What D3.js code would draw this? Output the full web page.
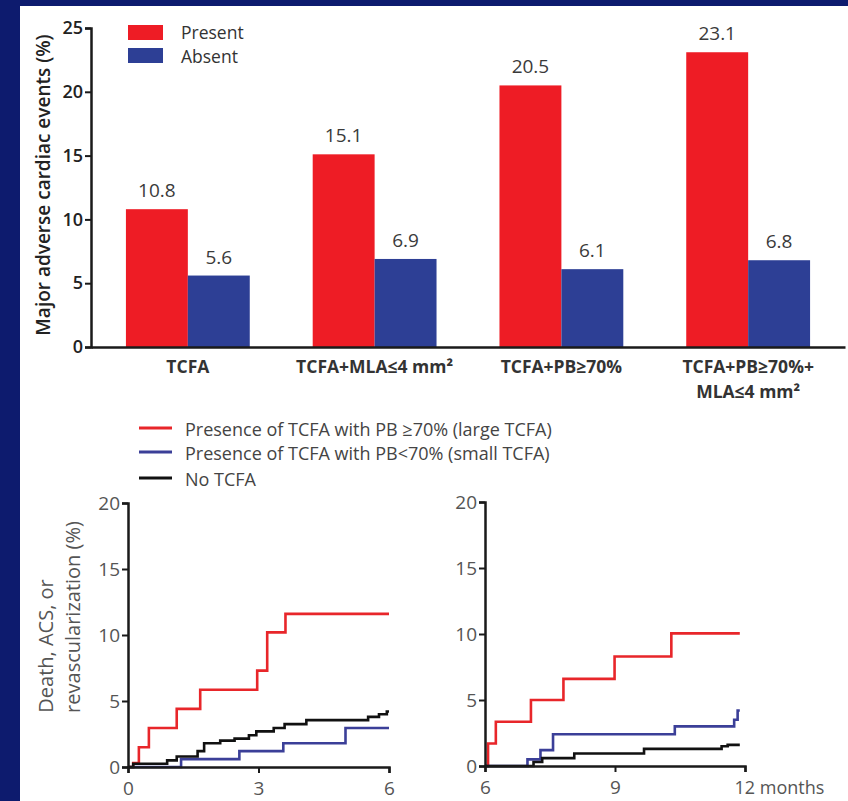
<!DOCTYPE html>
<meta charset="utf-8">
<head>
    <title>TCFA outcomes</title>
    <script type="text/javascript" src="https://d3js.org/d3.v7.min.js"></script>
    <style>
        body { margin: 0; background: #0d1b6e; }
        text { font-family: "Open Sans", sans-serif; }
    </style>
</head>
<body>
    <div id="chart"></div>
    <script>
        // bar chart data
        var categories = ["TCFA", "TCFA+MLA≤4 mm²", "TCFA+PB≥70%", "TCFA+PB≥70%+\nMLA≤4 mm²"];
        var groups = ["Present", "Absent"];
        var present = [10.8, 15.1, 20.5, 23.1];
        var absent = [5.6, 6.9, 6.1, 6.8];
        var barTicks = [0, 5, 10, 15, 20, 25];

        // step curves, 0-6 months
        var redEarlyT = [0, 0.12, 0.25, 0.48, 1.12, 1.66, 2.97, 3.2, 3.62, 6];
        var redEarlyV = [0, 0.3, 1.5, 2.95, 4.4, 5.85, 7.3, 10.2, 11.6, 11.6];
        var blueEarlyT = [0, 1.22, 2.56, 3.57, 5.0, 6];
        var blueEarlyV = [0, 0.6, 1.2, 1.8, 2.95, 2.95];
        var blackEarlyT = [0, 0.12, 0.9, 1.12, 1.6, 1.75, 2.12, 2.45, 2.78, 2.95, 3.35, 3.6, 4.1, 5.52, 5.77, 5.95, 6];
        var blackEarlyV = [0, 0.25, 0.5, 0.8, 1.2, 1.8, 2.0, 2.15, 2.4, 2.7, 2.95, 3.25, 3.55, 3.8, 4.0, 4.2, 4.2];

        // step curves, 6-12 months
        var redLateT = [6, 6.07, 6.25, 7.06, 7.81, 8.99, 10.3, 11.88];
        var redLateV = [0, 1.7, 3.35, 5.0, 6.6, 8.3, 10.05, 10.05];
        var blueLateT = [6, 6.98, 7.28, 7.57, 10.38, 11.75, 11.83, 11.88];
        var blueLateV = [0, 0.5, 1.2, 2.4, 3.0, 3.5, 4.2, 4.2];
        var blackLateT = [6, 7.12, 7.32, 8.06, 9.67, 11.46, 11.6, 11.88];
        var blackLateV = [0, 0.3, 0.6, 0.95, 1.3, 1.5, 1.6, 1.6];

        var curveNames = ["Presence of TCFA with PB ≥70% (large TCFA)", "Presence of TCFA with PB<70% (small TCFA)", "No TCFA"];
        var curveColors = ["#e8262a", "#3b3f98", "#111111"];
        var curveTicks = [0, 5, 10, 15, 20];

        var width = 848, height = 801;
        var svg = d3.select("#chart").append("svg")
                    .attr("width", width)
                    .attr("height", height);

        // navy frame and white panel
        svg.append("rect").attr("width", width).attr("height", height).attr("fill", "#0d1b6e");
        svg.append("rect").attr("x", 20).attr("y", 6).attr("width", 828).attr("height", 795).attr("fill", "#ffffff");

        // ---------- top bar chart ----------
        var barColors = d3.scaleOrdinal().domain(groups).range(["#ee1c25", "#2d3f95"]);
        var x0 = d3.scaleBand().domain(categories).range([91, 845]).paddingInner(0.337).paddingOuter(0.187);
        var x1 = d3.scaleBand().domain(groups).range([0, x0.bandwidth()]);
        var yBar = d3.scaleLinear().domain([0, 25]).range([347, 28]);

        var rows = categories.map(function(c, i) {
            return { cat: c, vals: [{ g: "Present", v: present[i] }, { g: "Absent", v: absent[i] }] };
        });

        var bars = svg.append("g").selectAll("g")
                      .data(rows)
                      .enter().append("g")
                      .attr("transform", function(d) { return "translate(" + x0(d.cat) + ",0)"; });

        bars.selectAll("rect")
            .data(function(d) { return d.vals; })
            .enter().append("rect")
            .attr("x", function(d) { return x1(d.g); })
            .attr("y", function(d) { return yBar(d.v); })
            .attr("width", x1.bandwidth())
            .attr("height", function(d) { return yBar(0) - yBar(d.v); })
            .attr("fill", function(d) { return barColors(d.g); });

        bars.selectAll("text")
            .data(function(d) { return d.vals; })
            .enter().append("text")
            .attr("x", function(d) { return x1(d.g) + x1.bandwidth() / 2; })
            .attr("y", function(d) { return yBar(d.v) - 12; })
            .attr("text-anchor", "middle")
            .attr("font-size", "19px")
            .attr("fill", "#3a3a3a")
            .text(function(d) { return d.v.toFixed(1); });

        var yBarAxis = svg.append("g")
                          .attr("transform", "translate(91,0)")
                          .call(d3.axisLeft(yBar).tickValues(barTicks).tickSize(6).tickPadding(2));
        yBarAxis.select(".domain").attr("stroke", "#1a1a1a").attr("stroke-width", 2.5);
        yBarAxis.selectAll(".tick line").attr("stroke", "#1a1a1a").attr("stroke-width", 2);
        yBarAxis.selectAll(".tick text").attr("font-size", "18px").attr("font-weight", 600).attr("fill", "#222");

        var xBarAxis = svg.append("g")
                          .attr("transform", "translate(0,347)")
                          .call(d3.axisBottom(x0).tickSize(0).tickFormat(""));
        xBarAxis.select(".domain").attr("stroke", "#1a1a1a").attr("stroke-width", 2.5);

        svg.append("g").selectAll("text")
           .data(categories)
           .enter().append("text")
           .attr("x", function(d) { return x0(d) + x0.bandwidth() / 2; })
           .attr("y", 373)
           .attr("text-anchor", "middle")
           .attr("font-size", "17.5px")
           .attr("font-weight", 700)
           .attr("fill", "#333")
           .each(function(d) {
               var lines = d.split("\n");
               var t = d3.select(this);
               lines.forEach(function(l, i) {
                   t.append("tspan").attr("x", t.attr("x")).attr("dy", i == 0 ? 0 : 25).text(l);
               });
           });

        svg.append("text")
           .attr("transform", "translate(50,185) rotate(-90)")
           .attr("text-anchor", "middle")
           .attr("font-size", "19px")
           .attr("font-weight", 600)
           .attr("fill", "#222")
           .text("Major adverse cardiac events (%)");

        // bar legend
        var barLegend = svg.append("g").selectAll("g")
                           .data(groups)
                           .enter().append("g")
                           .attr("transform", function(d, i) { return "translate(128," + (25 + i * 23) + ")"; });
        barLegend.append("rect").attr("width", 35).attr("height", 15).attr("fill", function(d) { return barColors(d); });
        barLegend.append("text").attr("x", 53).attr("y", function(d, i) { return 14 + i; })
                 .attr("font-size", "17.5px").attr("fill", "#333")
                 .text(function(d) { return d; });

        // ---------- bottom curves ----------
        var curveLegend = svg.append("g").selectAll("g")
                             .data(curveNames)
                             .enter().append("g")
                             .attr("transform", function(d, i) { return "translate(0," + [428, 452, 478][i] + ")"; });
        curveLegend.append("line").attr("x1", 139).attr("x2", 172)
                   .attr("stroke", function(d, i) { return curveColors[i]; })
                   .attr("stroke-width", 3);
        curveLegend.append("text").attr("x", 185).attr("y", 8)
                   .attr("font-size", "18px").attr("fill", "#444")
                   .text(function(d) { return d; });

        var line = function(xs, ys) {
            return d3.line().curve(d3.curveStepAfter)
                     .x(function(d) { return xs(d[0]); })
                     .y(function(d) { return ys(d[1]); });
        };

        function drawPanel(xDomain, xRange, yRange, xTicks, series) {
            var xs = d3.scaleLinear().domain(xDomain).range(xRange);
            var ys = d3.scaleLinear().domain([0, 20]).range(yRange);
            var g = svg.append("g");

            series.forEach(function(s, i) {
                var pts = s[0].map(function(t, j) { return [t, s[1][j]]; });
                g.append("path")
                 .datum(pts)
                 .attr("fill", "none")
                 .attr("stroke", curveColors[i])
                 .attr("stroke-width", 2.6)
                 .attr("d", line(xs, ys));
            });

            var ya = g.append("g").attr("transform", "translate(" + xRange[0] + ",0)")
                      .call(d3.axisLeft(ys).tickValues(curveTicks).tickSize(6).tickPadding(2).tickFormat(d3.format("d")));
            var xa = g.append("g").attr("transform", "translate(0," + yRange[0] + ")")
                      .call(d3.axisBottom(xs).tickValues(xTicks).tickSize(6).tickPadding(9).tickFormat(d3.format("d")));
            [ya, xa].forEach(function(a) {
                a.select(".domain").attr("stroke", "#1a1a1a").attr("stroke-width", 2.5);
                a.selectAll(".tick line").attr("stroke", "#1a1a1a").attr("stroke-width", 2);
                a.selectAll(".tick text").attr("font-size", "19px").attr("fill", "#555");
            });
            return xa;
        }

        drawPanel([0, 6], [128, 389], [767, 503], [0, 3, 6], [
            [redEarlyT, redEarlyV], [blueEarlyT, blueEarlyV], [blackEarlyT, blackEarlyV]
        ]);
        var lateAxis = drawPanel([6, 12], [485, 745], [766, 502], [6, 9, 12], [
            [redLateT, redLateV], [blueLateT, blueLateV], [blackLateT, blackLateV]
        ]);
        lateAxis.selectAll(".tick text")
                .filter(function(d) { return d == 12; })
                .attr("text-anchor", "start")
                .attr("dx", "-11")
                .attr("font-size", "18px")
                .text("12 months");

        svg.append("text")
           .attr("transform", "translate(53,646) rotate(-90)")
           .attr("text-anchor", "middle")
           .attr("font-size", "20px").attr("fill", "#555")
           .text("Death, ACS, or");
        svg.append("text")
           .attr("transform", "translate(80,617) rotate(-90)")
           .attr("text-anchor", "middle")
           .attr("font-size", "20px").attr("fill", "#555")
           .text("revascularization (%)");
    </script>
</body>
</html>
